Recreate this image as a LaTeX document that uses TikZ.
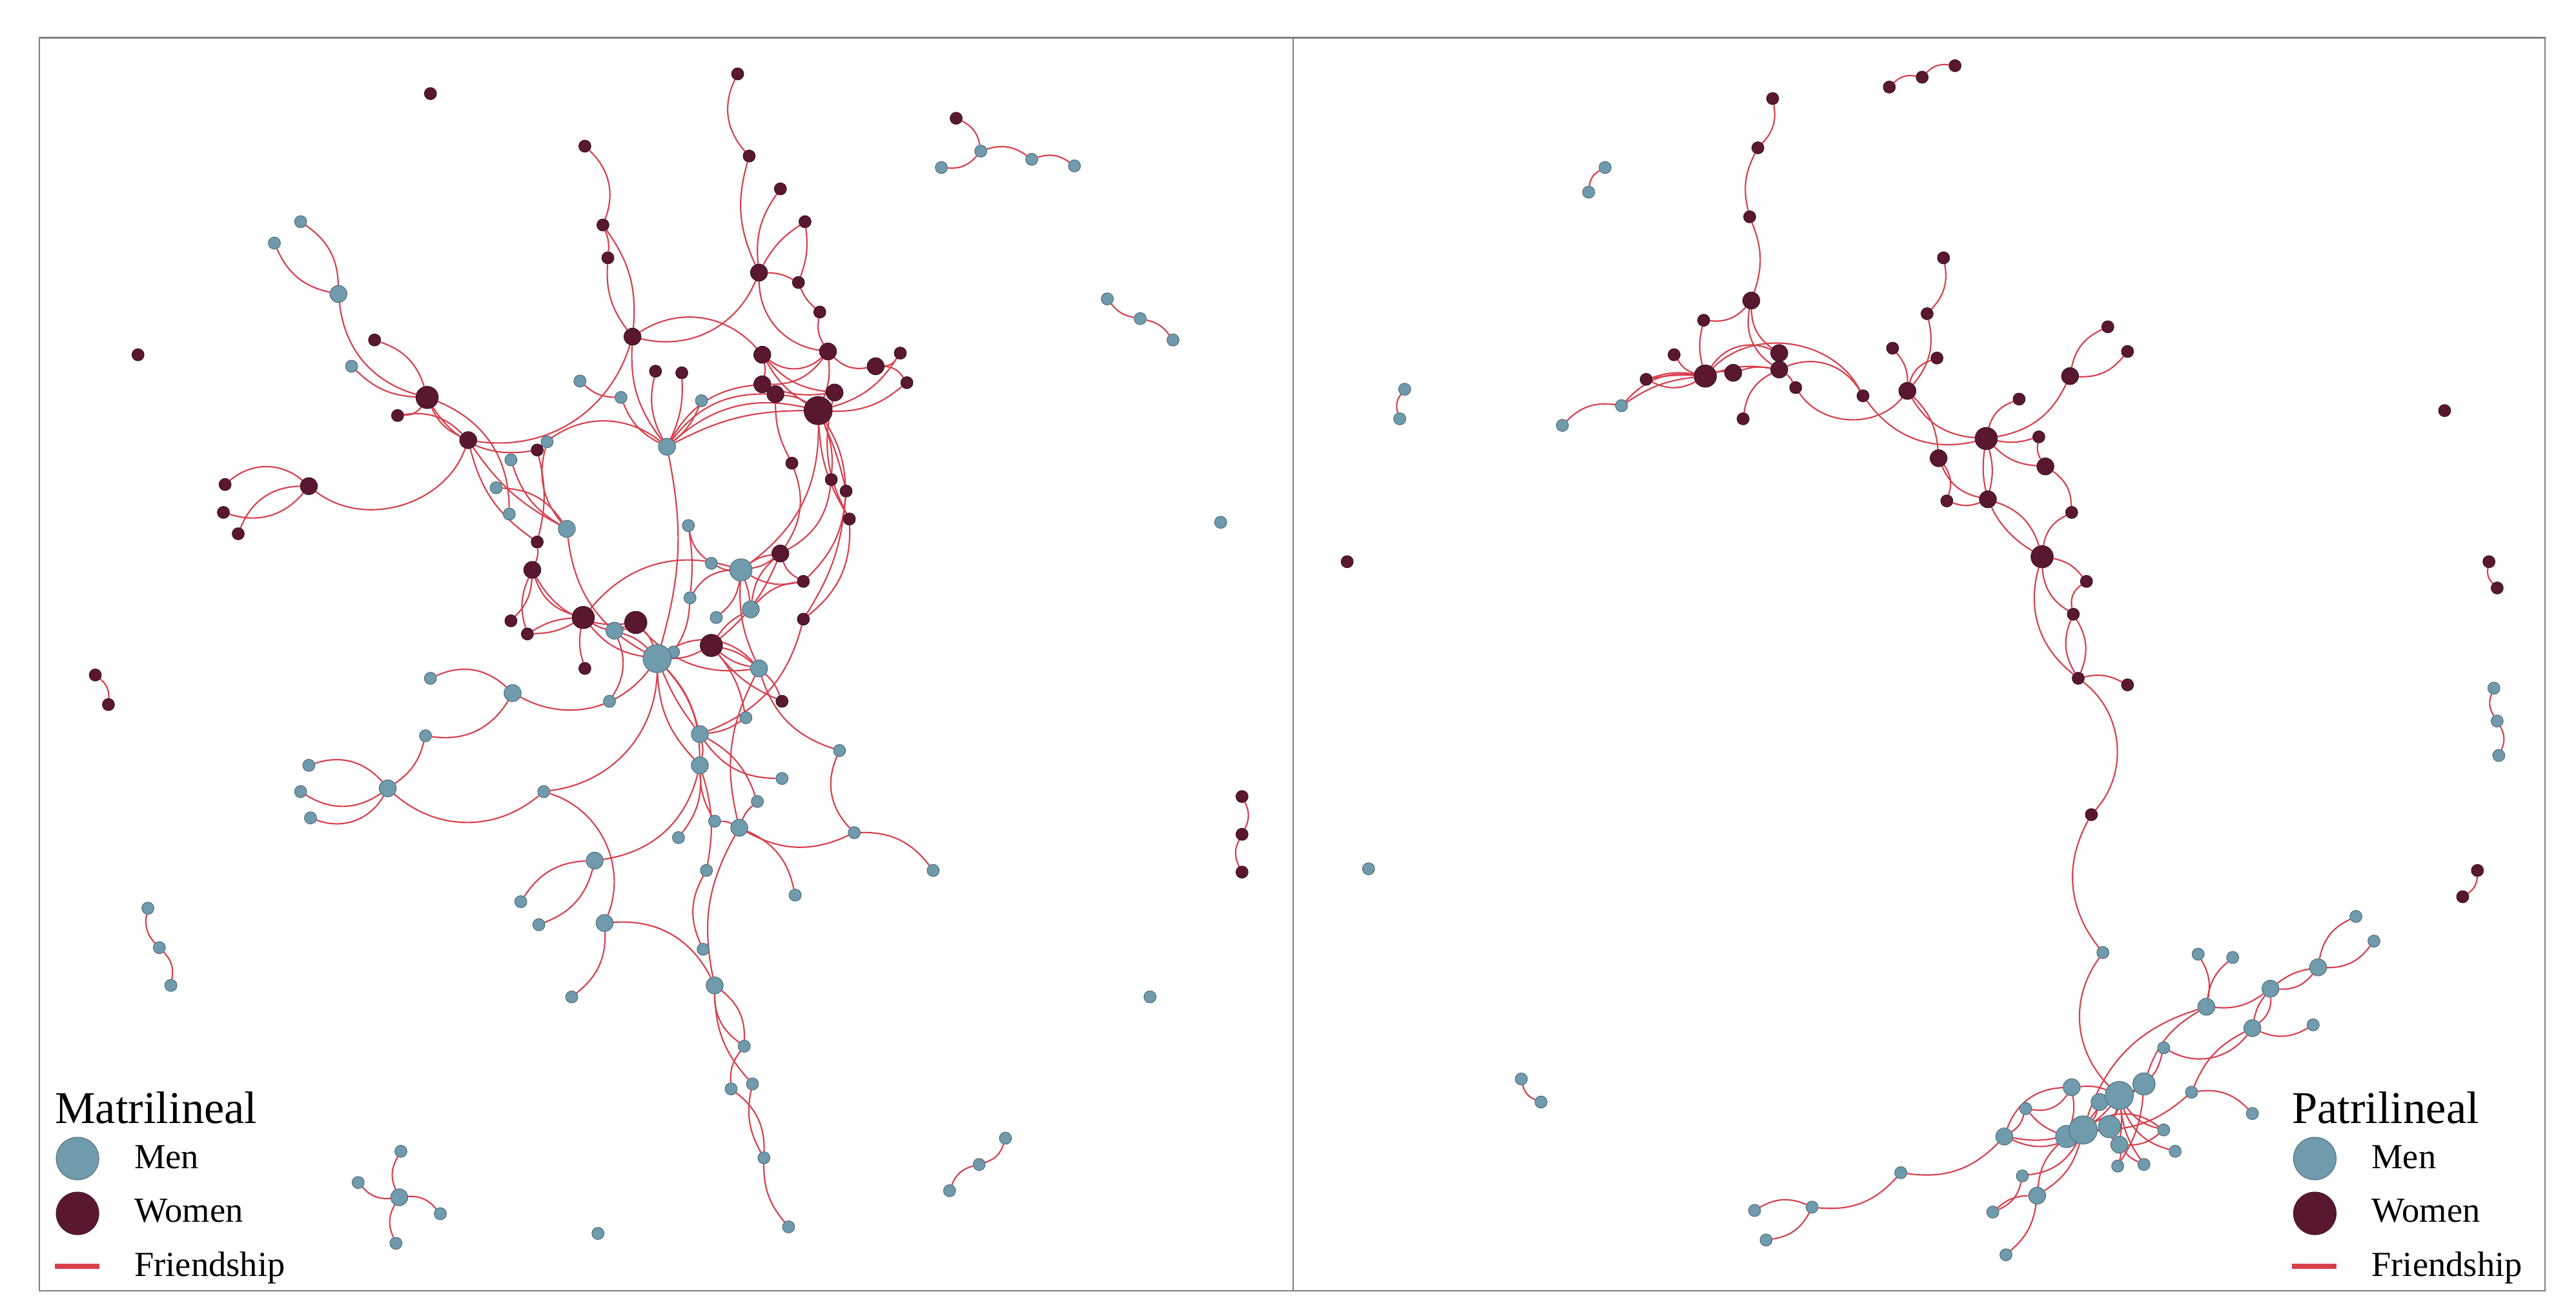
\documentclass[tikz,border=0pt]{standalone}
\usepackage{fontspec}
\setmainfont{Liberation Serif}
\pgfdeclarelayer{bg}
\pgfsetlayers{bg,main}
\definecolor{mancol}{HTML}{6F9BAC}
\definecolor{mandraw}{HTML}{4A6573}
\definecolor{womcol}{HTML}{5A1830}
\definecolor{womdraw}{HTML}{3A0F20}
\definecolor{edgecol}{HTML}{D83F4D}
\definecolor{framecol}{HTML}{808080}
\tikzset{
  nd/.style={circle,inner sep=0pt,line width=0.5pt},
  man/.style={nd,fill=mancol,draw=mandraw},
  wom/.style={nd,fill=womcol,draw=womdraw},
  sza/.style={minimum size=0.37cm},
  szb/.style={minimum size=0.52cm},
  szc/.style={minimum size=0.68cm},
  szd/.style={minimum size=0.86cm},
  szleg/.style={minimum size=1.3cm},
  edge/.style={draw=edgecol,line width=1.2pt},
  title/.style={anchor=base west,inner sep=0pt,font=\rmfamily\fontsize{39.4}{45}\selectfont},
  item/.style={anchor=base west,inner sep=0pt,font=\rmfamily\fontsize{30.5}{36}\selectfont},
}
\begin{document}
\begin{tikzpicture}[x=0.05cm,y=-0.05cm]
\useasboundingbox (0,0) rectangle (1568,801);
\begin{pgfonlayer}{bg}
\fill[white] (0,0) rectangle (1568,801);
\end{pgfonlayer}
\draw[framecol,line width=1.2pt] (24,23) rectangle (1549,786);
\draw[framecol,line width=1.2pt] (787,23) -- (787,786);

% ---------- men nodes ----------
\foreach \n/\x/\y/\s in {
 l5/743/318/sza, l9/700/607/sza, l10/364/751/sza, l11/90/553/sza, l12/97/577/sza, l13/104/600/sza,
 l14/612/693/sza, l15/596/709/sza, l16/578/725/sza,
 s0/243/729/szb, s1/244/701/sza, s2/218/720/sza, s3/268/739/sza, s4/241/757/sza,
 t2/597/92/sza, t3/573/102/sza, t4/628/97/sza, t5/654/101/sza,
 c1/674/182/sza, c2/694/194/sza, c3/714/207/sza,
 a23/353/232/sza, a24/378/242/sza, a25/427/244/sza, a26/406/272/szb, a31/419/320/sza,
 a33/433/343/sza, a34/451/347/szc, a36/420/364/sza, a37/457/371/szb, a38/436/376/sza,
 a41/462/407/szb, a42/410/397/sza,
 b1/183/135/sza, b2/167/148/sza, b3/206/179/szb, b5/214/223/sza, b13/333/269/sza,
 b15/311/280/sza, b16/302/297/sza, b17/310/313/sza, b18/345/322/szb, b25/374/384/szb, b26/400/401/szd,
 d1/262/413/sza, d2/312/422/szb, d3/371/427/sza, d4/454/437/sza, d5/426/447/szb, d6/259/448/sza,
 d7/511/457/sza, d8/426/466/szb, d9/476/474/sza, d10/188/466/sza, d11/183/482/sza, d12/189/498/sza,
 d13/236/480/szb, d14/331/482/sza, d15/461/488/sza, d16/435/500/sza, d17/450/504/szb, d18/413/510/sza,
 d19/520/507/sza, d20/568/530/sza, d21/362/524/szb, d22/430/530/sza, d23/484/545/sza, d24/317/549/sza,
 d25/328/563/sza, d26/368/562/szb, d27/428/578/sza, d28/348/607/sza, d29/435/600/szb, d30/453/637/sza,
 d31/445/663/sza, d32/458/660/sza, d33/465/705/sza, d34/480/747/sza,
 r4/977/102/sza, r5/967/117/sza, r19/987/247/sza, r20/951/259/sza,
 r44/855/237/sza, r45/852/255/sza, r47/833/529/sza, r48/926/657/sza, r49/938/671/sza,
 r53/1518/419/sza, r54/1520/439/sza, r55/1521/460/sza,
 p1/1280/580/sza, p2/1338/581/sza, p3/1359/583/sza, p4/1434/558/sza, p5/1445/573/sza,
 p6/1411/589/szb, p7/1382/602/szb, p8/1343/613/szb, p9/1371/626/szb, p10/1408/624/sza,
 p11/1317/638/sza, p12/1261/662/szb, p14/1305/660/szc, p15/1278/671/szb, p16/1334/665/sza,
 p17/1371/678/sza, p19/1258/692/szc, p18/1268/688/szd, p20/1284/686/szc, p21/1317/688/sza,
 p22/1290/697/szb, p23/1324/701/sza, p24/1289/710/sza, p25/1305/709/sza, p26/1233/675/sza,
 p27/1220/692/szb, p28/1231/716/sza, p29/1240/728/szb, p30/1213/738/sza, p31/1221/764/sza,
 p32/1157/714/sza, p33/1103/735/sza, p34/1068/737/sza, p35/1075/755/sza, p13/1290/667/szd}
 \node[man,\s] (\n) at (\x,\y) {};

% ---------- women nodes ----------
\foreach \n/\x/\y/\s in {
 l1/262/57/sza, l2/84/216/sza, l3/58/411/sza, l4/66/429/sza, l6/756/485/sza, l7/756/508/sza, l8/756/531/sza,
 t1/582/72/sza,
 a1/449/45/sza, a2/456/95/sza, a3/475/115/sza, a4/490/135/sza, a5/462/166/szb, a6/486/172/sza,
 a7/499/190/sza, a8/356/89/sza, a9/367/137/sza, a10/370/157/sza, a11/385/205/szb, a12/464/216/szb,
 a13/504/214/szb, a14/533/223/szb, a15/548/215/sza, a16/552/233/sza, a17/464/234/szb, a18/472/240/szb,
 a19/508/239/szb, a20/498/250/szd, a21/399/226/sza, a22/415/227/sza, a27/482/282/sza, a28/506/292/sza,
 a29/515/299/sza, a30/517/316/sza, a32/475/337/szb, a35/489/354/sza, a39/489/377/sza, a40/433/393/szc,
 a43/476/427/sza,
 b4/228/207/sza, b6/260/242/szc, b7/242/253/sza, b8/285/268/szb, b9/188/296/szb, b10/137/295/sza,
 b11/136/312/sza, b12/145/325/sza, b14/327/274/sza, b19/327/330/sza, b20/324/347/szb, b21/311/378/sza,
 b22/321/386/sza, b23/355/376/szc, b24/387/379/szc, b27/356/407/sza,
 r1/1150/53/sza, r2/1170/47/sza, r3/1190/40/sza, r6/1079/60/sza, r7/1070/90/sza, r8/1065/132/sza,
 r9/1066/183/szb, r10/1037/195/sza, r11/1083/215/szb, r12/1083/225/szb, r13/1019/216/sza, r14/1038/229/szc,
 r15/1055/227/szb, r16/1002/231/sza, r17/1093/236/sza, r18/1061/255/sza, r21/1134/241/sza, r22/1161/238/szb,
 r23/1152/212/sza, r24/1179/218/sza, r25/1173/191/sza, r26/1183/157/sza, r27/1209/267/szc, r28/1229/243/sza,
 r29/1260/229/szb, r30/1283/199/sza, r31/1295/214/sza, r32/1241/266/sza, r33/1245/284/szb, r34/1180/279/szb,
 r35/1185/305/sza, r36/1210/304/szb, r37/1261/312/sza, r38/1243/339/szc, r39/1270/354/sza, r40/1262/374/sza,
 r41/1265/413/sza, r42/1295/417/sza, r43/1273/496/sza,
 r46/820/342/sza, r50/1488/250/sza, r51/1515/342/sza, r52/1520/358/sza, r56/1508/530/sza, r57/1499/546/sza}
 \node[wom,\s] (\n) at (\x,\y) {};

% ---------- edges ----------
\begin{pgfonlayer}{bg}
\foreach \a/\b/\c in {
 l3/l4/20, l6/l7/20, l7/l8/-20, l11/l12/-20, l12/l13/20, l14/l15/20, l15/l16/-20,
 s0/s1/20, s0/s2/20, s0/s3/20, s0/s4/-20, t1/t2/20, t3/t2/-20, t2/t4/20, t4/t5/20, c1/c2/-15, c2/c3/15,
 a1/a2/-25, a2/a5/-15, a3/a5/-15, a4/a5/-10, a4/a6/10, a5/a6/10, a6/a7/-10, a5/a13/-30, a7/a13/-15,
 a5/a11/30, a8/a9/25, a9/a10/10, a9/a11/15, a10/a11/-15, a11/a12/30, a11/b8/30, a11/a26/-15,
 a26/a24/15, a24/a23/15, a26/a21/15, a26/a22/-10, a26/a25/-10, a26/b14/-30, a26/b26/10,
 a26/a20/20, a26/a20/10, a12/a20/-10, a12/a13/-30, a12/a19/-15, a13/a20/10, a13/a14/-20,
 a14/a15/-20, a14/a16/20, a15/a20/15, a16/a20/15, a17/a13/-20, a17/a19/-10, a17/a26/-20,
 a18/a26/-20, a18/a20/10, a18/a27/-10, a19/a30/-15, a20/a28/10, a20/a29/10, a20/a29/4,
 a20/a30/-10, a20/a34/20, a12/a17/10, a27/a32/20, a28/a32/20, a29/a35/15, a29/a39/10,
 a30/a39/20, a32/a34/10, a32/a34/-10, a32/a35/-15, a32/a37/-15, a32/a40/10, a34/a33/10,
 a34/a35/-15, a34/a38/15, a34/a37/5, a34/a41/-10, a34/a36/-20, a34/b23/-25, a33/a31/15,
 a31/a36/5, a36/a42/10, a35/a37/-15, a39/d5/20, a40/a41/10, a40/a41/-10, a40/a43/-10,
 a40/b26/10, a40/a37/10, a40/d4/10, b26/a42/10, a41/a43/10, a41/d7/-20, a41/d17/-15, a41/b26/-30,
 b1/b3/20, b2/b3/-20, b3/b6/-25, b4/b6/20, b5/b6/-15, b6/b7/20, b7/b8/20, b6/b8/-15,
 b6/b14/-25, b6/b17/25, b8/b9/40, b9/b10/-30, b9/b11/25, b9/b12/-25, b8/b19/-15, b8/b18/-10,
 b15/b18/-15, b16/b18/20, b13/b18/-20, b14/b19/10, b18/b26/-20, b19/b20/10, b20/b21/15,
 b20/b22/-15, b20/b23/-20, b20/b24/-25, b23/b22/10, b23/b22/-10, b23/b24/-20, b23/b27/-10,
 b23/b26/-15, b24/b25/10, b24/b26/10, b24/a41/-20, b25/b26/10, b25/d3/20,
 b26/d2/30, b26/d14/30, b26/d5/10, b26/d5/-5, b26/d8/15, b26/d8/-15,
 d2/d1/-25, d2/d6/25, d6/d13/15, d13/d10/-25, d13/d11/25, d13/d12/30, d13/d14/-30, d14/d26/35,
 d5/d8/10, d5/d4/-10, d5/d9/-20, d5/d15/15, d8/d21/25, d8/d22/10, d8/d16/-10, d8/d18/15,
 d17/d15/10, d17/d23/20, d17/d19/-20, d17/d29/-15, d16/d17/10, d7/d19/-25, d19/d20/20,
 d21/d24/-20, d21/d25/20, d22/d27/-20, d26/d28/20, d26/d29/25, d29/d30/20, d29/d30/-20,
 d29/d32/-15, d30/d31/-15, d31/d33/20, d32/d33/-15, d33/d34/-15,
 r1/r2/20, r2/r3/20, r4/r5/-20, r6/r7/20, r7/r8/-15, r8/r9/15, r9/r10/20, r10/r14/-10,
 r9/r11/-20, r9/r12/-25, r14/r13/15, r14/r16/20, r14/r16/-10, r14/r15/10, r14/r11/30,
 r14/r21/40, r12/r21/30, r14/r12/10, r15/r12/10, r12/r18/-20, r12/r17/10, r17/r22/-40,
 r19/r14/20, r19/r14/10, r20/r19/20, r16/r14/5,
 r21/r27/-25, r22/r23/-15, r22/r24/20, r22/r25/-20, r25/r26/-20, r22/r27/-20, r22/r34/15,
 r27/r28/20, r27/r29/-20, r29/r30/20, r29/r31/-20, r27/r32/-10, r27/r33/-15, r32/r33/-15,
 r27/r36/10, r34/r36/-20, r34/r35/20, r35/r36/-15, r27/r38/-25, r36/r38/20, r33/r37/20,
 r37/r38/-20, r38/r39/15, r38/r40/-20, r38/r41/-25, r39/r40/-25, r40/r41/20, r40/r41/-20,
 r41/r42/15, r41/r43/35, r43/p1/-25, r44/r45/-20, r48/r49/-20, r51/r52/-20, r53/r54/-20,
 r54/r55/20, r56/r57/20,
 p1/p13/-30, p2/p8/15, p3/p8/-15, p4/p6/-20, p5/p6/20, p6/p7/20, p6/p7/-10, p7/p8/15,
 p7/p9/20, p7/p9/-10, p9/p10/-20, p9/p11/30, p9/p16/-15, p16/p17/20, p11/p13/20, p8/p18/-20,
 p16/p18/15, p8/p14/-15, p12/p13/10, p12/p26/25, p12/p27/-25, p12/p19/10, p26/p27/15,
 p26/p19/-10, p27/p32/20, p27/p18/-10, p27/p18/-20, p13/p15/10, p13/p20/5, p13/p18/5,
 p13/p18/-10, p13/p22/5, p13/p25/-10, p13/p21/-15, p13/p23/-20, p14/p20/-10, p14/p24/10,
 p15/p18/10, p18/p22/15, p18/p21/25, p22/p24/10, p22/p25/-10, p22/p21/-15, p19/p29/-15,
 p18/p28/20, p18/p29/15, p29/p30/-15, p28/p30/20, p29/p31/15, p32/p33/20, p33/p34/-20, p33/p35/20}
 {\pgfmathsetmacro\cc{1.35*\c}
  \draw[edge] (\a) to[bend left=\cc] (\b);}
\end{pgfonlayer}

% ---------- legends ----------
\node[title] (ltitle) at (33.4,683.8) {Matrilineal};
\node[man,szleg] (lmen) at (47.2,705.4) {};
\node[wom,szleg] (lwom) at (47.2,738.8) {};
\node[item] (lmt) at (81.7,711.3) {Men};
\node[item] (lwt) at (81.7,744) {Women};
\node[item] (lft) at (81.7,777) {Friendship};
\coordinate (lfa) at (33.4,771);
\coordinate (lfb) at (60.6,771);
\draw[edgecol,line width=4.5pt] (lfa) -- (lfb);

\node[title] (rtitle) at (1395,683.8) {Patrilineal};
\node[man,szleg] (rmen) at (1409,705.4) {};
\node[wom,szleg] (rwom) at (1409,738.8) {};
\node[item] (rmt) at (1443.4,711.3) {Men};
\node[item] (rwt) at (1443.4,744) {Women};
\node[item] (rft) at (1443.4,777) {Friendship};
\coordinate (rfa) at (1395,771);
\coordinate (rfb) at (1422,771);
\draw[edgecol,line width=4.5pt] (rfa) -- (rfb);
\end{tikzpicture}
\end{document}
